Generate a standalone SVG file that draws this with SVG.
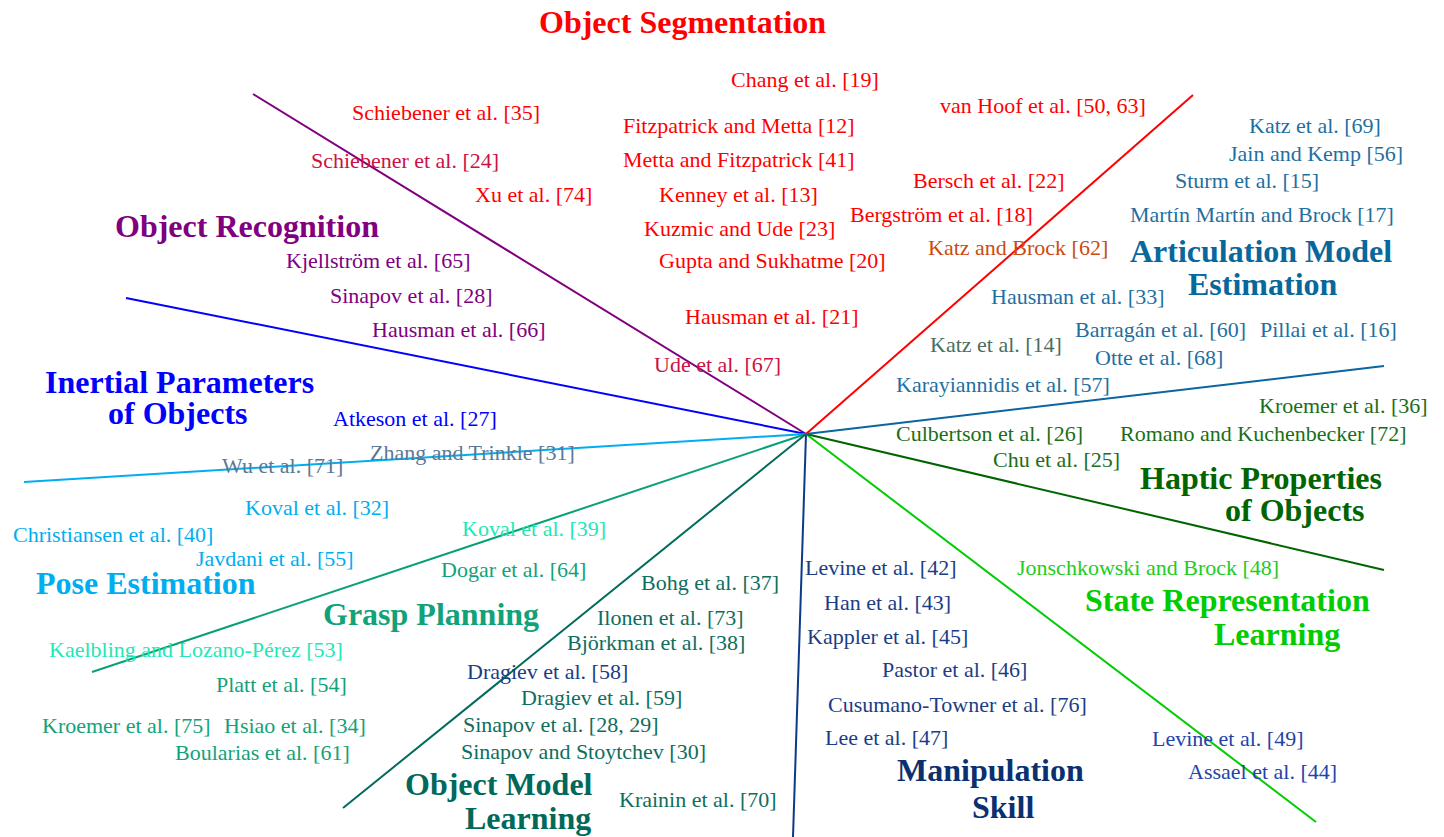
<svg xmlns="http://www.w3.org/2000/svg" width="1444" height="837" viewBox="0 0 1444 837">
<style>
text{font-family:"Liberation Serif","Times New Roman",serif;font-size:22px}
.h{font-weight:bold;font-size:32px}
.ln{stroke-width:2;fill:none;stroke-linecap:butt}
.seg{fill:#ff0000}.crim{fill:#cc1144}.pur{fill:#800080}.blu{fill:#0000ff}.gb{fill:#5a7896}
.cya{fill:#00aeef}.mint{fill:#1ee8b4}.gr{fill:#12a27a}.om{fill:#0e6e5e}.omh{fill:#00695a}
.nav{fill:#1b3d85}.navh{fill:#0a3070}.nb{fill:#2244aa}.srl{fill:#22cc22}.srlh{fill:#00cc00}
.hap{fill:#1a6e1a}.haph{fill:#006400}.art{fill:#1f6fa0}.arth{fill:#08679b}.kz{fill:#4a6e60}.or{fill:#cc4a10}
</style>
<rect width="1444" height="837" fill="#ffffff"/>
<g id="connectors">
<line class="ln" x1="806" y1="434" x2="253" y2="94" stroke="#800080"/>
<line class="ln" x1="806" y1="434" x2="1193" y2="95" stroke="#ff0000"/>
<line class="ln" x1="806" y1="434" x2="126" y2="298" stroke="#0000ff"/>
<line class="ln" x1="806" y1="434" x2="24" y2="482" stroke="#00aeef"/>
<line class="ln" x1="806" y1="434" x2="92" y2="672" stroke="#0a9f76"/>
<line class="ln" x1="806" y1="434" x2="343" y2="808" stroke="#006b5a"/>
<line class="ln" x1="806" y1="434" x2="793" y2="837" stroke="#0a3a8a"/>
<line class="ln" x1="806" y1="434" x2="1316" y2="822" stroke="#00cc00"/>
<line class="ln" x1="806" y1="434" x2="1384" y2="570" stroke="#006400"/>
<line class="ln" x1="806" y1="434" x2="1384" y2="366" stroke="#0a65a0"/>
</g>
<g id="object-segmentation">
<text class="h seg" x="539" y="33">Object Segmentation</text>
<text class="seg" x="731" y="87">Chang et al. [19]</text>
<text class="seg" x="352" y="120">Schiebener et al. [35]</text>
<text class="seg" x="940" y="113">van Hoof et al. [50, 63]</text>
<text class="seg" x="623" y="133">Fitzpatrick and Metta [12]</text>
<text class="crim" x="311" y="168">Schiebener et al. [24]</text>
<text class="seg" x="623" y="167">Metta and Fitzpatrick [41]</text>
<text class="seg" x="913" y="188">Bersch et al. [22]</text>
<text class="seg" x="475" y="202">Xu et al. [74]</text>
<text class="seg" x="659" y="202">Kenney et al. [13]</text>
<text class="seg" x="850" y="222">Bergström et al. [18]</text>
<text class="seg" x="644" y="236">Kuzmic and Ude [23]</text>
<text class="or" x="928" y="255">Katz and Brock [62]</text>
<text class="seg" x="659" y="268">Gupta and Sukhatme [20]</text>
<text class="seg" x="685" y="324">Hausman et al. [21]</text>
<text class="crim" x="654" y="372">Ude et al. [67]</text>
</g>
<g id="object-recognition">
<text class="h pur" x="115" y="237">Object Recognition</text>
<text class="pur" x="286" y="268">Kjellström et al. [65]</text>
<text class="pur" x="330" y="303">Sinapov et al. [28]</text>
<text class="pur" x="372" y="337">Hausman et al. [66]</text>
</g>
<g id="inertial-parameters">
<text class="h blu"><tspan x="45" y="393">Inertial Parameters</tspan><tspan x="108" y="424">of Objects</tspan></text>
<text class="blu" x="333" y="426">Atkeson et al. [27]</text>
<text class="gb" x="370" y="460">Zhang and Trinkle [31]</text>
<text class="gb" x="222" y="473">Wu et al. [71]</text>
</g>
<g id="pose-estimation">
<text class="cya" x="245" y="515">Koval et al. [32]</text>
<text class="cya" x="13" y="542">Christiansen et al. [40]</text>
<text class="cya" x="196" y="566">Javdani et al. [55]</text>
<text class="h cya" x="36" y="594">Pose Estimation</text>
</g>
<g id="grasp-planning">
<text class="mint" x="462" y="536">Koval et al. [39]</text>
<text class="gr" x="441" y="577">Dogar et al. [64]</text>
<text class="h gr" x="323" y="625">Grasp Planning</text>
<text class="mint" x="49" y="657">Kaelbling and Lozano-Pérez [53]</text>
<text class="gr" x="216" y="692">Platt et al. [54]</text>
<text class="gr" x="42" y="733">Kroemer et al. [75]</text>
<text class="gr" x="224" y="733">Hsiao et al. [34]</text>
<text class="gr" x="175" y="760">Boularias et al. [61]</text>
</g>
<g id="object-model-learning">
<text class="om" x="641" y="590">Bohg et al. [37]</text>
<text class="om" x="597" y="625">Ilonen et al. [73]</text>
<text class="om" x="567" y="650">Björkman et al. [38]</text>
<text class="nav" x="467" y="679">Dragiev et al. [58]</text>
<text class="om" x="521" y="705">Dragiev et al. [59]</text>
<text class="om" x="463" y="732">Sinapov et al. [28, 29]</text>
<text class="om" x="461" y="759">Sinapov and Stoytchev [30]</text>
<text class="h omh"><tspan x="405" y="795">Object Model</tspan><tspan x="465" y="829">Learning</tspan></text>
<text class="om" x="619" y="807">Krainin et al. [70]</text>
</g>
<g id="manipulation-skill">
<text class="nav" x="805" y="575">Levine et al. [42]</text>
<text class="nav" x="824" y="610">Han et al. [43]</text>
<text class="nav" x="807" y="644">Kappler et al. [45]</text>
<text class="nav" x="882" y="677">Pastor et al. [46]</text>
<text class="nav" x="828" y="712">Cusumano-Towner et al. [76]</text>
<text class="nav" x="825" y="745">Lee et al. [47]</text>
<text class="nb" x="1152" y="746">Levine et al. [49]</text>
<text class="nb" x="1188" y="779">Assael et al. [44]</text>
<text class="h navh"><tspan x="897" y="781">Manipulation</tspan><tspan x="972" y="818">Skill</tspan></text>
</g>
<g id="state-representation-learning">
<text class="srl" x="1017" y="575">Jonschkowski and Brock [48]</text>
<text class="h srlh"><tspan x="1085" y="611">State Representation</tspan><tspan x="1214" y="645">Learning</tspan></text>
</g>
<g id="haptic-properties">
<text class="hap" x="1259" y="413">Kroemer et al. [36]</text>
<text class="hap" x="896" y="441">Culbertson et al. [26]</text>
<text class="hap" x="1120" y="441">Romano and Kuchenbecker [72]</text>
<text class="hap" x="993" y="467">Chu et al. [25]</text>
<text class="h haph"><tspan x="1140" y="489">Haptic Properties</tspan><tspan x="1225" y="521">of Objects</tspan></text>
</g>
<g id="articulation-model-estimation">
<text class="art" x="1249" y="133">Katz et al. [69]</text>
<text class="art" x="1229" y="161">Jain and Kemp [56]</text>
<text class="art" x="1175" y="188">Sturm et al. [15]</text>
<text class="art" x="1130" y="222">Martín Martín and Brock [17]</text>
<text class="h arth"><tspan x="1130" y="262">Articulation Model</tspan><tspan x="1188" y="295">Estimation</tspan></text>
<text class="art" x="991" y="304">Hausman et al. [33]</text>
<text class="art" x="1075" y="337">Barragán et al. [60]</text>
<text class="art" x="1260" y="337">Pillai et al. [16]</text>
<text class="kz" x="930" y="352">Katz et al. [14]</text>
<text class="art" x="1095" y="365">Otte et al. [68]</text>
<text class="art" x="896" y="392">Karayiannidis et al. [57]</text>
</g>
</svg>
